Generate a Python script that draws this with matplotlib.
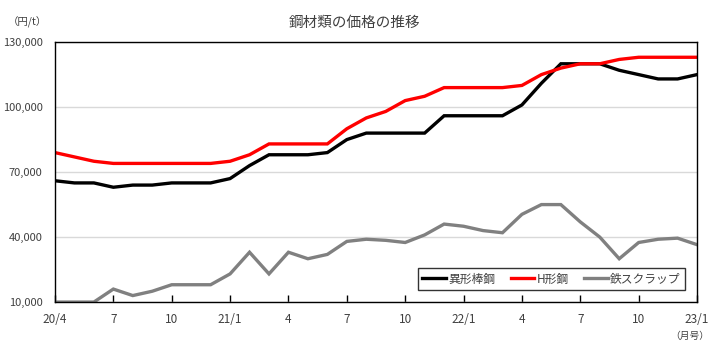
import matplotlib
matplotlib.use("Agg")
import matplotlib.pyplot as plt

plt.rcParams['font.family'] = ['Noto Sans CJK JP', 'DejaVu Sans']

# 月次データ 2020/4 - 2023/1
months = list(range(34))
tick_pos = [0, 3, 6, 9, 12, 15, 18, 21, 24, 27, 30, 33]
tick_labels = ["20/4", "7", "10", "21/1", "4", "7", "10", "22/1", "4", "7", "10", "23/1"]

rebar = [66000, 65000, 65000, 63000, 64000, 64000, 65000, 65000, 65000, 67000,
         73000, 78000, 78000, 78000, 79000, 85000, 88000, 88000, 88000, 88000,
         96000, 96000, 96000, 96000, 101000, 111000, 120000, 120000, 120000, 117000,
         115000, 113000, 113000, 115000]
hbeam = [79000, 77000, 75000, 74000, 74000, 74000, 74000, 74000, 74000, 75000,
         78000, 83000, 83000, 83000, 83000, 90000, 95000, 98000, 103000, 105000,
         109000, 109000, 109000, 109000, 110000, 115000, 118000, 120000, 120000, 122000,
         123000, 123000, 123000, 123000]
scrap = [10000, 10000, 10000, 16000, 13000, 15000, 18000, 18000, 18000, 23000,
         33000, 23000, 33000, 30000, 32000, 38000, 39000, 38500, 37500, 41000,
         46000, 45000, 43000, 42000, 50500, 55000, 55000, 47000, 40000, 30000,
         37500, 39000, 39500, 36500]

txt = "#404040"

fig = plt.figure(figsize=(7.12, 3.48), dpi=100)
ax = fig.add_axes([0.0772, 0.132, 0.9018, 0.747])

ax.plot(months, rebar, color="black", lw=2.4, label="異形棒鋼", solid_joinstyle="miter")
ax.plot(months, hbeam, color="#ff0000", lw=2.4, label="H形鋼", solid_joinstyle="miter")
ax.plot(months, scrap, color="#808080", lw=2.4, label="鉄スクラップ", solid_joinstyle="miter")

ax.set_xlim(0, 33)
ax.set_ylim(10000, 130000)
ax.set_yticks([10000, 40000, 70000, 100000, 130000])
ax.set_yticklabels(["10,000", "40,000", "70,000", "100,000", "130,000"])
ax.set_xticks(tick_pos)
ax.set_xticklabels(tick_labels)
ax.tick_params(axis="x", direction="in", length=5, width=1, colors="black",
               labelcolor=txt, labelsize=8.5, pad=8)
ax.tick_params(axis="y", length=0, labelcolor=txt, labelsize=8, pad=9)
ax.grid(axis="y", color="#d9d9d9", lw=1)
ax.set_axisbelow(True)
for s in ax.spines.values():
    s.set_color("black")
    s.set_linewidth(1)

leg = ax.legend(loc="lower right", ncol=3, frameon=True, fancybox=False,
                edgecolor="black", fontsize=8.5, handlelength=2.0,
                handletextpad=0.2, columnspacing=1.3, borderpad=0.35,
                bbox_to_anchor=(0.99, 0.025))
leg.get_frame().set_linewidth(1)
for t in leg.get_texts():
    t.set_color(txt)

fig.text(0.498, 0.935, "鋼材類の価格の推移", ha="center", va="center",
         fontsize=10.5, color=txt)
fig.text(0.038, 0.937, "（円/t）", ha="center", va="center", fontsize=7.5, color=txt)
fig.text(0.969, 0.035, "（月号）", ha="center", va="center", fontsize=7, color=txt)

fig.savefig("out.png", dpi=100)
